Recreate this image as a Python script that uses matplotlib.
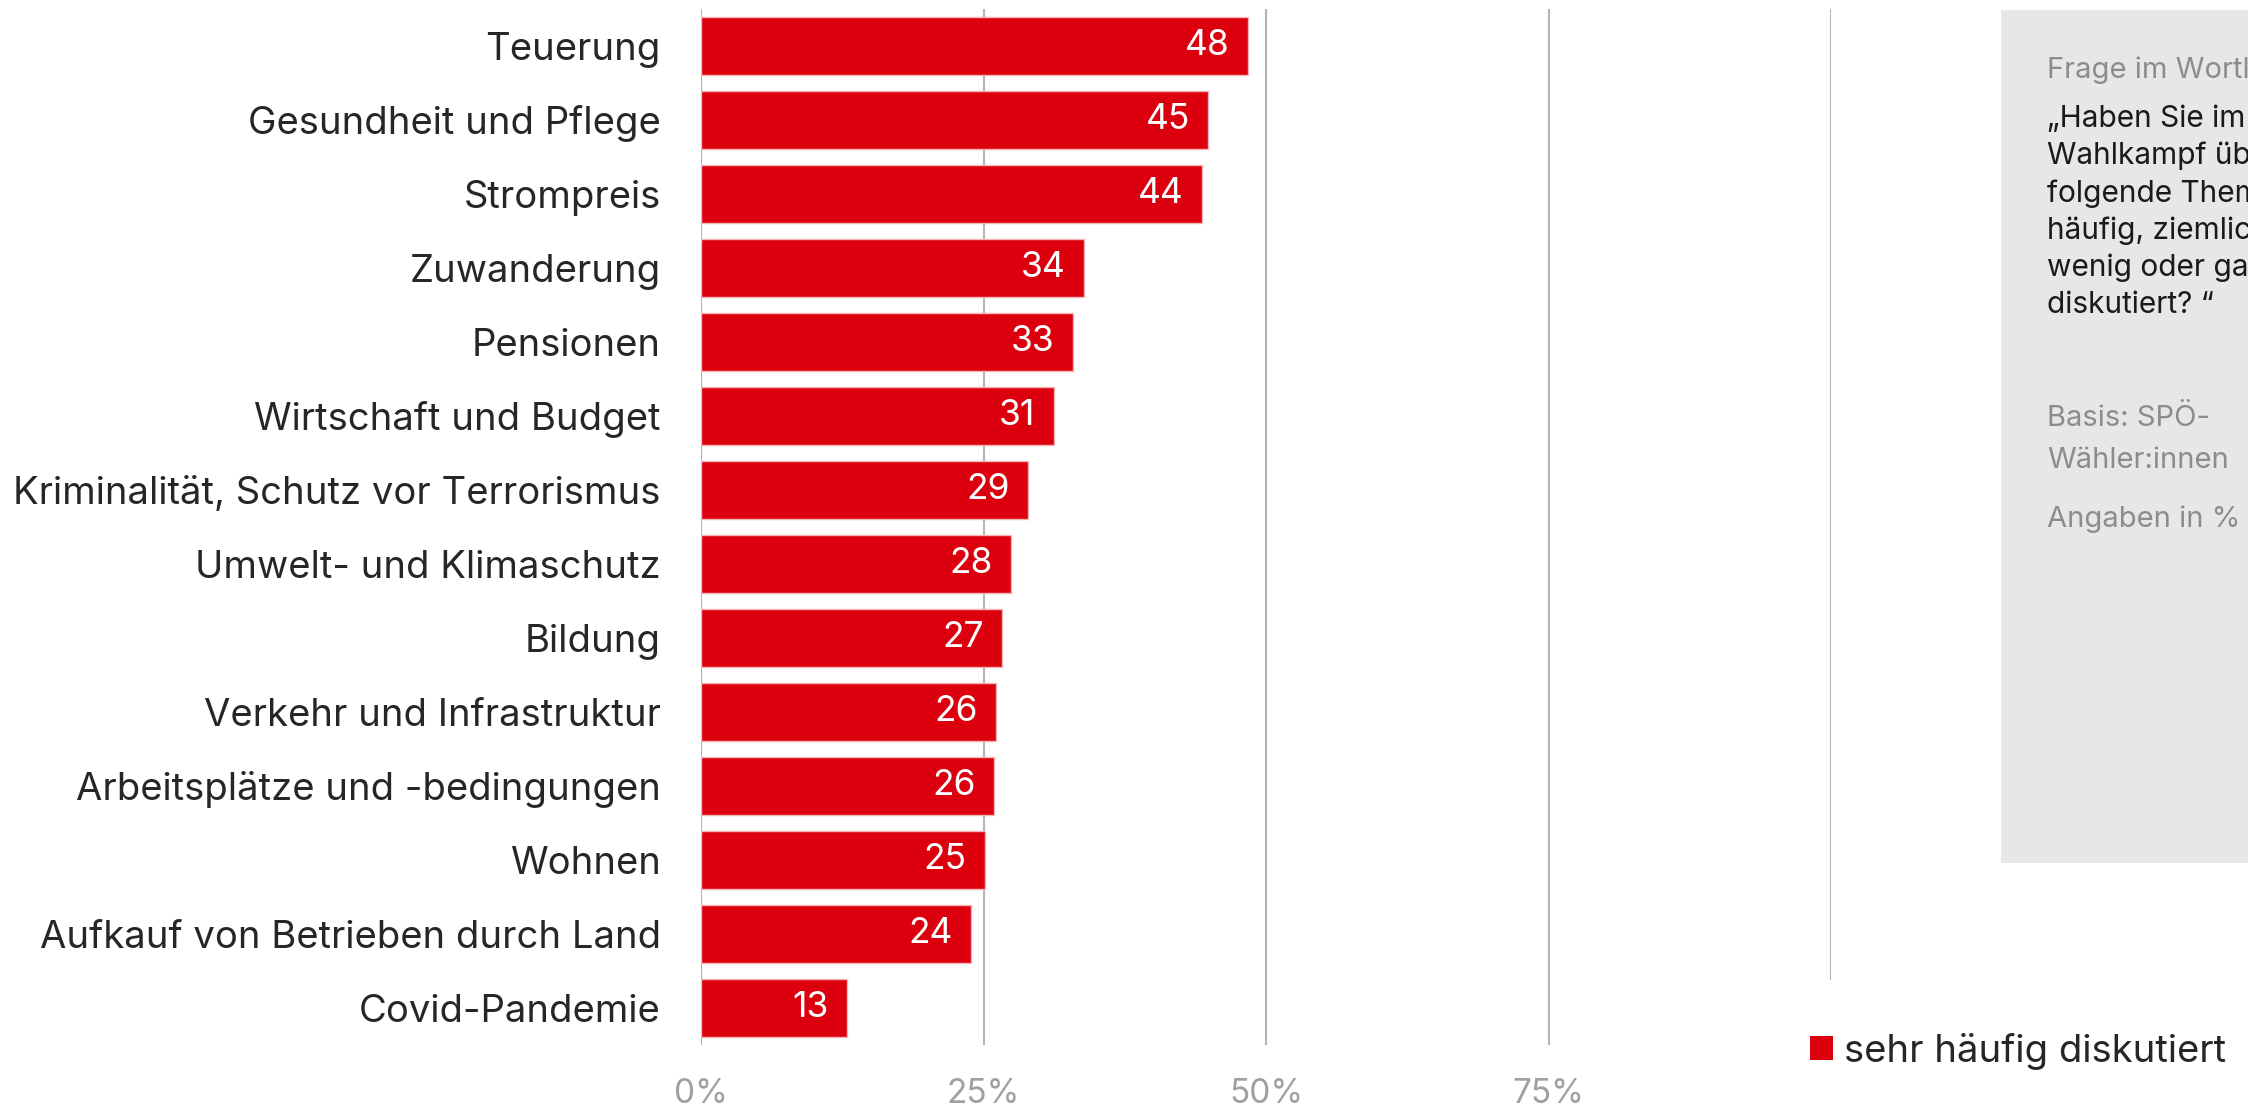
import matplotlib
matplotlib.use("Agg")
import matplotlib.pyplot as plt
from matplotlib.patches import Rectangle, Patch

categories = ["Teuerung", "Gesundheit und Pflege", "Strompreis", "Zuwanderung", "Pensionen",
              "Wirtschaft und Budget", "Kriminalität, Schutz vor Terrorismus",
              "Umwelt- und Klimaschutz", "Bildung", "Verkehr und Infrastruktur",
              "Arbeitsplätze und -bedingungen", "Wohnen", "Aufkauf von Betrieben durch Land",
              "Covid-Pandemie"]
values = [48.4, 44.9, 44.3, 33.9, 32.9, 31.2, 28.9, 27.4, 26.6, 26.1, 25.9, 25.1, 23.9, 12.9]
value_labels = ["48", "45", "44", "34", "33", "31", "29", "28", "27", "26", "26", "25", "24", "13"]
xticks = [0, 25, 50, 75]
xtick_labels = ["0%", "25%", "50%", "75%"]
legend_label = "sehr häufig diskutiert"
panel_title = "Frage im Wortlaut:"
panel_quote = ["„Haben Sie im", "Wahlkampf über", "folgende Themen sehr",
               "häufig, ziemlich häufig,", "wenig oder gar nicht", "diskutiert? “"]
panel_basis = ["Basis: SPÖ-", "Wähler:innen"]
panel_unit = "Angaben in %"

FONT = ["Inter", "DejaVu Sans"]
plt.rcParams["font.family"] = FONT
RED = "#DC000F"
GRID = "#b4b4b4"
W, H = 2248, 1107

fig = plt.figure(figsize=(W / 100, H / 100), dpi=100)
ax_left, ax_right, ax_top, ax_bot = 701, 1831, 8.9, 1045
ax = fig.add_axes([ax_left / W, 1 - ax_bot / H, (ax_right - ax_left) / W, (ax_bot - ax_top) / H])

ypos = list(range(len(categories)))
ax.barh(ypos, values, height=0.78, color=RED, edgecolor="#f3b5b5", linewidth=1, zorder=3)
for y, v, lab in zip(ypos, values, value_labels):
    ax.annotate(lab, (v, y), xytext=(-13, 0), textcoords="offset points",
                ha="right", va="center", color="white", fontsize=25.5, zorder=4)

ax.set_xlim(0, 100)
ax.set_ylim(len(categories) - 0.5, -0.5)
ax.set_yticks(ypos)
ax.set_yticklabels(categories, fontsize=27.5, color="#262626")
ax.set_xticks(xticks)
ax.set_xticklabels(xtick_labels, fontsize=24, color="#a0a0a0")
ax.tick_params(axis="y", length=0, pad=29)
ax.tick_params(axis="x", length=0, pad=24)
for s in ax.spines.values():
    s.set_visible(False)
for t in xticks:
    ax.axvline(t, color=GRID, linewidth=1.5, zorder=1)
ax.axvline(100, ymin=(ax_bot - 979) / (ax_bot - ax_top), color=GRID, linewidth=1.5, zorder=1)

# side panel
fig.add_artist(Rectangle((2001 / W, 1 - 863 / H), 0.2, (863 - 10) / H,
                         transform=fig.transFigure, facecolor="#e7e7e7", edgecolor="none", zorder=0))
tx = 2047 / W
fig.text(tx, 1 - 70 / H, panel_title, fontsize=21, color="#8c8c8c", va="center")
for i, line in enumerate(panel_quote):
    fig.text(tx, 1 - (119 + i * 37.2) / H, line, fontsize=21.5, color="#1a1a1a", va="center")
for i, line in enumerate(panel_basis):
    fig.text(tx, 1 - (419 + i * 41) / H, line, fontsize=21, color="#8c8c8c", va="center")
fig.text(tx, 1 - 519 / H, panel_unit, fontsize=21, color="#8c8c8c", va="center")

fig.legend(handles=[Patch(facecolor=RED, edgecolor="none", label=legend_label)],
           loc="center left", bbox_to_anchor=(1810 / W, 1 - 1051 / H), frameon=False,
           fontsize=27.5, handlelength=0.6, handleheight=0.6, handletextpad=0.3,
           borderpad=0, borderaxespad=0, labelcolor="#262626")

fig.savefig("out.png", dpi=100)
